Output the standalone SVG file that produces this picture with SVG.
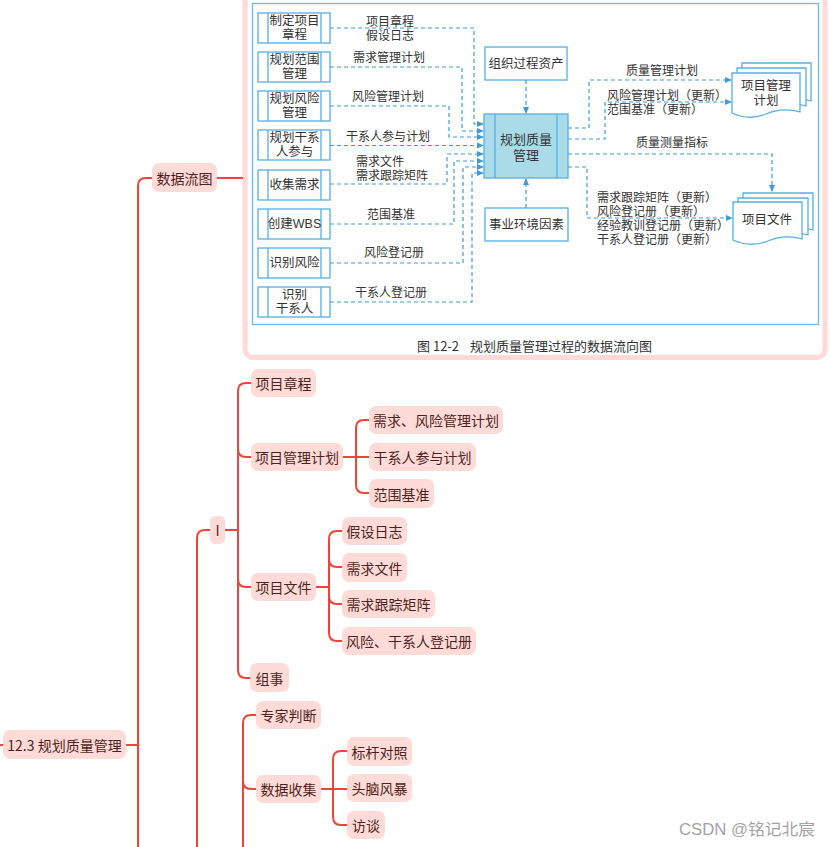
<svg xmlns="http://www.w3.org/2000/svg" width="830" height="847" viewBox="0 0 830 847">
<defs>
<marker id="ah" viewBox="0 0 8 8" refX="7" refY="4" markerWidth="7" markerHeight="7" orient="auto" markerUnits="userSpaceOnUse">
<path d="M0,0.5 L8,4 L0,7.5 Z" fill="#3a9be0"/>
</marker>
<style>
.mm{fill:#ffdbd7;}
.mt{font-family:"Noto Sans CJK SC","Noto Sans",sans-serif;font-size:14px;fill:#4e1f22;text-anchor:middle;dominant-baseline:central;}
.ml{fill:none;stroke:#f2433a;stroke-width:2;}
.bx{fill:#fff;stroke:#55b0e6;stroke-width:1.3;}
.bl{stroke:#55b0e6;stroke-width:1.3;}
.bt{font-family:"Liberation Sans","Noto Sans CJK SC",sans-serif;font-size:12.5px;fill:#333;text-anchor:middle;}
.lt{font-family:"Liberation Sans","Noto Sans CJK SC",sans-serif;font-size:12px;fill:#333;}
.dl{fill:none;stroke:#3a9be0;stroke-width:1.2;stroke-dasharray:4,3;}
</style>
</defs>

<!-- image frame -->
<rect x="245" y="-20" width="580" height="377.5" rx="8" fill="#fff" stroke="#ffdad6" stroke-width="5"/>
<rect x="252.5" y="3.5" width="566" height="321" fill="none" stroke="#6dbbe8" stroke-width="1.3"/>

<!-- left process boxes -->
<g id="p1"><rect class="bx" x="258" y="13" width="72" height="30"/><line class="bl" x1="268" y1="13" x2="268" y2="43"/><line class="bl" x1="321" y1="13" x2="321" y2="43"/><text class="bt" x="294.5" y="25">制定项目<tspan x="294.5" dy="14">章程</tspan></text></g>
<g id="p2"><rect class="bx" x="258" y="52" width="72" height="30"/><line class="bl" x1="268" y1="52" x2="268" y2="82"/><line class="bl" x1="321" y1="52" x2="321" y2="82"/><text class="bt" x="294.5" y="64">规划范围<tspan x="294.5" dy="14">管理</tspan></text></g>
<g id="p3"><rect class="bx" x="258" y="91" width="72" height="30"/><line class="bl" x1="268" y1="91" x2="268" y2="121"/><line class="bl" x1="321" y1="91" x2="321" y2="121"/><text class="bt" x="294.5" y="103">规划风险<tspan x="294.5" dy="14">管理</tspan></text></g>
<g id="p4"><rect class="bx" x="258" y="130" width="72" height="30"/><line class="bl" x1="268" y1="130" x2="268" y2="160"/><line class="bl" x1="321" y1="130" x2="321" y2="160"/><text class="bt" x="294.5" y="142">规划干系<tspan x="294.5" dy="14">人参与</tspan></text></g>
<g id="p5"><rect class="bx" x="258" y="170" width="72" height="30"/><line class="bl" x1="268" y1="170" x2="268" y2="200"/><line class="bl" x1="321" y1="170" x2="321" y2="200"/><text class="bt" x="294.5" y="189">收集需求</text></g>
<g id="p6"><rect class="bx" x="258" y="209" width="72" height="30"/><line class="bl" x1="268" y1="209" x2="268" y2="239"/><line class="bl" x1="321" y1="209" x2="321" y2="239"/><text class="bt" x="294.5" y="228">创建WBS</text></g>
<g id="p7"><rect class="bx" x="258" y="248" width="72" height="30"/><line class="bl" x1="268" y1="248" x2="268" y2="278"/><line class="bl" x1="321" y1="248" x2="321" y2="278"/><text class="bt" x="294.5" y="267">识别风险</text></g>
<g id="p8"><rect class="bx" x="258" y="287" width="72" height="30"/><line class="bl" x1="268" y1="287" x2="268" y2="317"/><line class="bl" x1="321" y1="287" x2="321" y2="317"/><text class="bt" x="294.5" y="299">识别<tspan x="294.5" dy="14">干系人</tspan></text></g>

<!-- center boxes -->
<g id="center"><rect x="484" y="114" width="84" height="64" fill="#a9dce8" stroke="#55b0e6" stroke-width="1.3"/><line class="bl" x1="495" y1="114" x2="495" y2="178"/><line class="bl" x1="557" y1="114" x2="557" y2="178"/><text class="bt" x="526" y="144" style="font-size:13px">规划质量<tspan x="526" dy="16">管理</tspan></text></g>
<g id="opa"><rect class="bx" x="485" y="47" width="82" height="33"/><text class="bt" x="526" y="68">组织过程资产</text></g>
<g id="eef"><rect class="bx" x="485" y="208" width="83" height="33"/><text class="bt" x="526.5" y="229">事业环境因素</text></g>

<!-- documents -->
<g id="pmp">
<path class="bx" d="M742,63 H811 V101 Q794,96 777,103 Q760,110 742,102 Z"/>
<path class="bx" d="M737,68 H806 V106 Q789,101 772,108 Q755,115 737,107 Z"/>
<path class="bx" d="M732,73 H800 V112 Q783,107 766,114 Q749,121 732,113 Z"/>
<text class="bt" x="766" y="90">项目管理<tspan x="766" dy="15">计划</tspan></text>
</g>
<g id="pdoc">
<path class="bx" d="M743,193 H813 V230 Q796,225 779,232 Q762,239 743,231 Z"/>
<path class="bx" d="M738,198 H808 V235 Q791,230 774,237 Q757,244 738,236 Z"/>
<path class="bx" d="M733,202 H802 V239 Q785,234 768,241 Q751,248 733,240 Z"/>
<text class="bt" x="767" y="224">项目文件</text>
</g>

<!-- connectors of the data flow diagram -->
<g id="flows">
<path class="dl" d="M330,28 H474 V124 H483" marker-end="url(#ah)"/>
<path class="dl" d="M330,67 H462 V131 H483" marker-end="url(#ah)"/>
<path class="dl" d="M330,106 H449 V137 H483" marker-end="url(#ah)"/>
<path class="dl" d="M330,145.5 H483" marker-end="url(#ah)"/>
<path class="dl" d="M330,184 H447 V154 H483" marker-end="url(#ah)"/>
<path class="dl" d="M330,224 H454 V161 H483" marker-end="url(#ah)"/>
<path class="dl" d="M330,263 H463 V167 H483" marker-end="url(#ah)"/>
<path class="dl" d="M330,302 H472 V173 H483" marker-end="url(#ah)"/>
<path class="dl" d="M526,80 V113" marker-end="url(#ah)"/>
<path class="dl" d="M526,208 V179" marker-end="url(#ah)"/>
<path class="dl" d="M568,128 H589 V80 H731" marker-end="url(#ah)"/>
<path class="dl" d="M568,139 H605 V102 H731" marker-end="url(#ah)"/>
<path class="dl" d="M568,154 H772 V191" marker-end="url(#ah)"/>
<path class="dl" d="M568,167 H587 V218 H732" marker-end="url(#ah)"/>
</g>

<!-- flow labels -->
<g id="flow-labels">
<text class="lt" x="390" y="26" text-anchor="middle">项目章程<tspan x="390" dy="14">假设日志</tspan></text>
<text class="lt" x="389" y="62" text-anchor="middle">需求管理计划</text>
<text class="lt" x="388" y="101" text-anchor="middle">风险管理计划</text>
<text class="lt" x="388" y="141" text-anchor="middle">干系人参与计划</text>
<text class="lt" x="356" y="166">需求文件<tspan x="356" dy="14">需求跟踪矩阵</tspan></text>
<text class="lt" x="391" y="219" text-anchor="middle">范围基准</text>
<text class="lt" x="394" y="257" text-anchor="middle">风险登记册</text>
<text class="lt" x="391" y="297" text-anchor="middle">干系人登记册</text>
<text class="lt" x="626" y="75">质量管理计划</text>
<text class="lt" x="607" y="100">风险管理计划（更新）<tspan x="607" dy="14">范围基准（更新）</tspan></text>
<text class="lt" x="636" y="147">质量测量指标</text>
<text class="lt" x="597" y="202">需求跟踪矩阵（更新）<tspan x="597" dy="14">风险登记册（更新）</tspan><tspan x="597" dy="14">经验教训登记册（更新）</tspan><tspan x="597" dy="14">干系人登记册（更新）</tspan></text>
</g>
<text x="417" y="351" style="font-family:'Noto Sans CJK SC',sans-serif;font-size:13px;fill:#333">图 12-2<tspan x="470">规划质量管理过程的数据流向图</tspan></text>

<!-- mind map connectors -->
<g id="mm-connectors">
<path class="ml" d="M0,745 H3"/>
<path class="ml" d="M126,745 H138"/>
<path class="ml" d="M152,178 H146 Q138,178 138,186 V847"/>
<path class="ml" d="M217,178 H243"/>
<path class="ml" d="M210,530 H205 Q197,530 197,538 V847"/>
<path class="ml" d="M225,530 H238"/>
<path class="ml" d="M251,383 H246 Q238,383 238,391 V670 Q238,678 246,678 H250"/>
<path class="ml" d="M238,449 Q238,457 246,457 H251"/>
<path class="ml" d="M238,579 Q238,587 246,587 H251"/>
<path class="ml" d="M343,457 H369"/>
<path class="ml" d="M369,420 H364 Q356,420 356,428 V485 Q356,493 364,493 H369"/>
<path class="ml" d="M316,587 H329"/>
<path class="ml" d="M342,531 H337 Q329,531 329,539 V633 Q329,641 337,641 H342"/>
<path class="ml" d="M329,559 Q329,567 337,567 H342"/>
<path class="ml" d="M329,596 Q329,604 337,604 H342"/>
<path class="ml" d="M256,715 H251 Q243,715 243,723 V847"/>
<path class="ml" d="M243,781 Q243,789 251,789 H256"/>
<path class="ml" d="M321,789 H347"/>
<path class="ml" d="M347,751 H341 Q333,751 333,759 V817 Q333,825 341,825 H347"/>
</g>

<!-- mind map nodes -->
<g id="n-root"><rect class="mm" x="3" y="730" width="123" height="29" rx="7"/><text class="mt" x="64.5" y="745">12.3 规划质量管理</text></g>
<g id="n-dfd"><rect class="mm" x="152" y="163" width="65" height="29" rx="7"/><text class="mt" x="184.5" y="178">数据流图</text></g>
<g id="n-i"><rect class="mm" x="210" y="516" width="15" height="28" rx="5"/><text class="mt" x="217.5" y="530">I</text></g>
<g id="n-charter"><rect class="mm" x="251" y="369" width="65" height="28" rx="7"/><text class="mt" x="283.5" y="383">项目章程</text></g>
<g id="n-pmp"><rect class="mm" x="251" y="443" width="92" height="28" rx="7"/><text class="mt" x="297" y="457">项目管理计划</text></g>
<g id="n-reqrisk"><rect class="mm" x="369" y="406" width="134" height="28" rx="7"/><text class="mt" x="436" y="420">需求、风险管理计划</text></g>
<g id="n-sep"><rect class="mm" x="369" y="443" width="107" height="28" rx="7"/><text class="mt" x="422.5" y="457">干系人参与计划</text></g>
<g id="n-scope"><rect class="mm" x="369" y="479" width="65" height="29" rx="7"/><text class="mt" x="401.5" y="493.5">范围基准</text></g>
<g id="n-docs"><rect class="mm" x="251" y="573" width="65" height="28" rx="7"/><text class="mt" x="283.5" y="587">项目文件</text></g>
<g id="n-assume"><rect class="mm" x="342" y="517" width="65" height="28" rx="7"/><text class="mt" x="374.5" y="531">假设日志</text></g>
<g id="n-reqdoc"><rect class="mm" x="342" y="553" width="65" height="29" rx="7"/><text class="mt" x="374.5" y="567.5">需求文件</text></g>
<g id="n-rtm"><rect class="mm" x="342" y="590" width="93" height="28" rx="7"/><text class="mt" x="388.5" y="604">需求跟踪矩阵</text></g>
<g id="n-reg"><rect class="mm" x="342" y="627" width="134" height="28" rx="7"/><text class="mt" x="409" y="641">风险、干系人登记册</text></g>
<g id="n-org"><rect class="mm" x="250" y="663" width="39" height="29" rx="7"/><text class="mt" x="269.5" y="677.5">组事</text></g>
<g id="n-expert"><rect class="mm" x="256" y="701" width="65" height="28" rx="7"/><text class="mt" x="288.5" y="715">专家判断</text></g>
<g id="n-collect"><rect class="mm" x="256" y="775" width="65" height="28" rx="7"/><text class="mt" x="288.5" y="789">数据收集</text></g>
<g id="n-bench"><rect class="mm" x="347" y="737" width="65" height="29" rx="7"/><text class="mt" x="379.5" y="751.5">标杆对照</text></g>
<g id="n-brain"><rect class="mm" x="347" y="774" width="65" height="28" rx="7"/><text class="mt" x="379.5" y="788">头脑风暴</text></g>
<g id="n-interview"><rect class="mm" x="347" y="811" width="38" height="28" rx="7"/><text class="mt" x="366" y="825">访谈</text></g>

<text x="679" y="835" textLength="136" lengthAdjust="spacingAndGlyphs" style="font-family:'Liberation Sans','Noto Sans CJK SC',sans-serif;font-size:16px;fill:#a3a3a3">CSDN @铭记北宸</text>
</svg>
